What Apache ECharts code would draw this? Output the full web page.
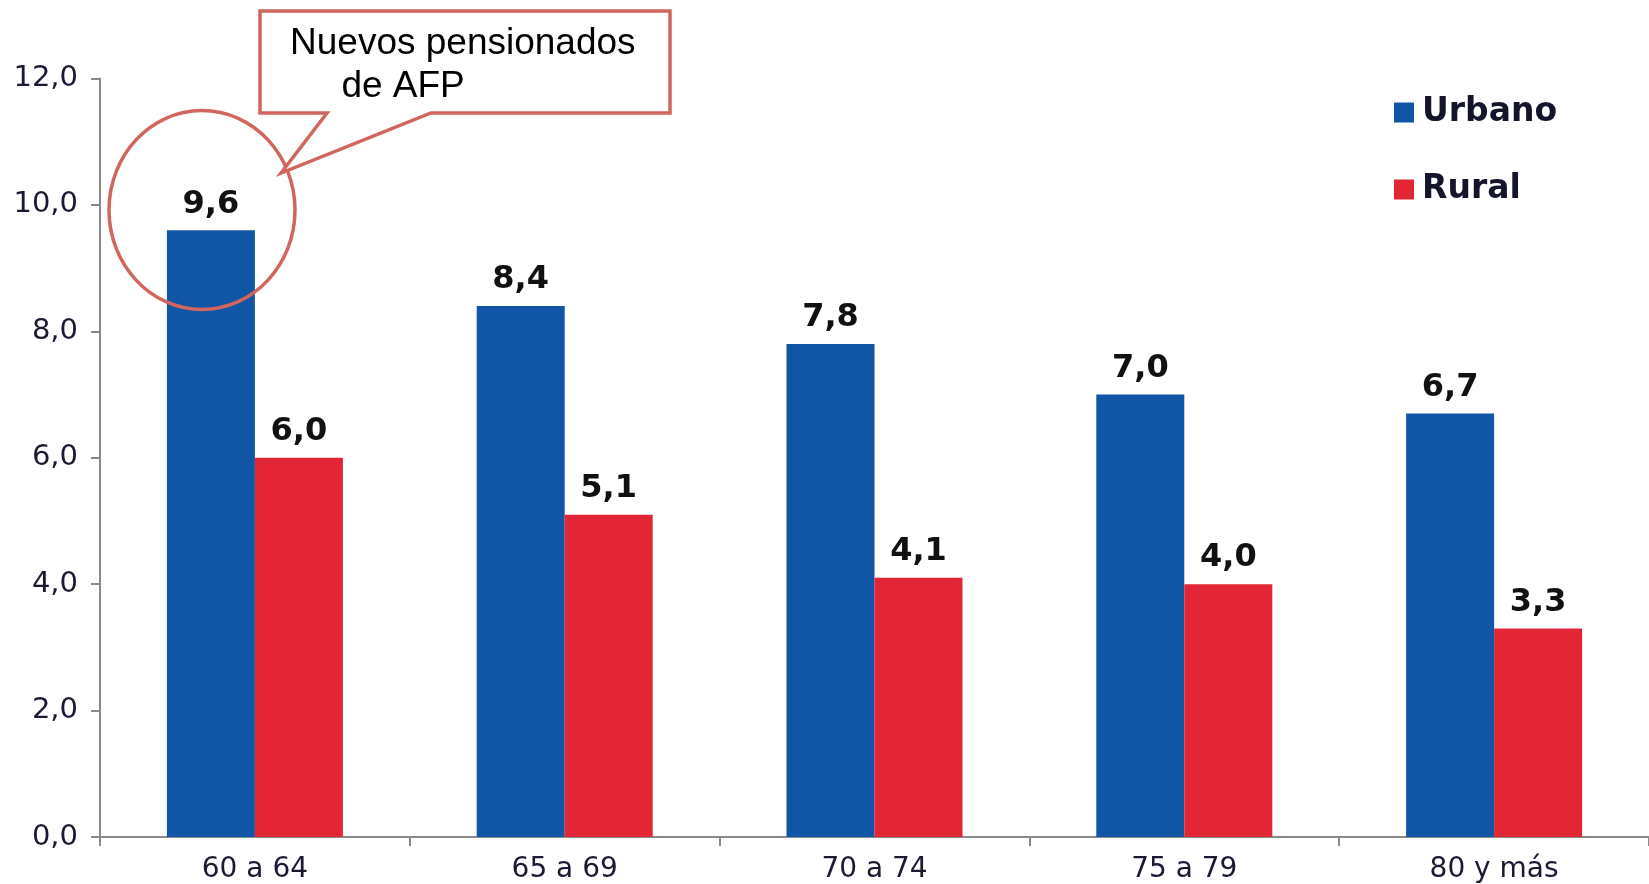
<!DOCTYPE html>
<html>
<head>
<meta charset="utf-8">
<script src="https://cdn.jsdelivr.net/npm/echarts@6/dist/echarts.min.js"></script>
<style>
html,body{margin:0;padding:0;background:#fff;}
#chart{width:1649px;height:884px;}
</style>
</head>
<body>
<div id="chart"></div>
<script>
var categories = ['60 a 64', '65 a 69', '70 a 74', '75 a 79', '80 y más'];
var urbano = [9.6, 8.4, 7.8, 7.0, 6.7];
var rural = [6.0, 5.1, 4.1, 4.0, 3.3];
var seriesNames = ['Urbano', 'Rural'];
var calloutLines = ['Nuevos pensionados', '     de AFP'];

function fmt(v) { return Number(v).toFixed(1).replace('.', ','); }

var chart = echarts.init(document.getElementById('chart'), null, {renderer: 'canvas'});
var accent = '#d0665e';
var labelStyle = {
  show: true, position: 'top', distance: 10,
  fontFamily: 'DejaVu Sans', fontWeight: 'bold', fontSize: 32, color: '#111',
  formatter: function (p) { return fmt(p.value); }
};
chart.setOption({
  animation: false,
  backgroundColor: '#fff',
  grid: {left: 100, right: 0, top: 78.5, bottom: 47, containLabel: false, outerBoundsMode: 'none'},
  legend: {
    orient: 'vertical', left: 1389, top: 91, itemWidth: 20, itemHeight: 20, itemGap: 44,
    icon: 'rect',
    data: seriesNames,
    textStyle: {fontFamily: 'DejaVu Sans', fontWeight: 'bold', fontSize: 33, color: '#14142a', padding: [0, 0, 0, 3]}
  },
  xAxis: {
    type: 'category', data: categories,
    axisLine: {lineStyle: {color: '#8a8a8a', width: 2}},
    axisTick: {show: true, length: 9, lineStyle: {color: '#8a8a8a', width: 2}},
    axisLabel: {fontFamily: 'DejaVu Sans', fontSize: 28, color: '#1a1a33', margin: 19}
  },
  yAxis: {
    type: 'value', min: 0, max: 12, interval: 2,
    axisLine: {show: true, lineStyle: {color: '#8a8a8a', width: 2}},
    axisTick: {show: true, length: 9, lineStyle: {color: '#8a8a8a', width: 2}},
    splitLine: {show: false},
    axisLabel: {fontFamily: 'DejaVu Sans', fontSize: 29, color: '#1a1a33', margin: 22, formatter: fmt}
  },
  series: [
    {name: seriesNames[0], type: 'bar', data: urbano, barWidth: 88, barGap: '0%',
     itemStyle: {color: '#1155a6'}, label: labelStyle},
    {name: seriesNames[1], type: 'bar', data: rural, barWidth: 88, barGap: '0%',
     itemStyle: {color: '#e32636'}, label: labelStyle}
  ],
  graphic: [
    {type: 'ellipse', shape: {cx: 202, cy: 210, rx: 93, ry: 99.5},
     style: {fill: 'none', stroke: accent, lineWidth: 3.5}, z: 100},
    {type: 'polygon', shape: {points: [[260, 11], [670, 11], [670, 113], [431, 113], [281, 173], [327, 113], [260, 113]]},
     style: {fill: '#fff', stroke: accent, lineWidth: 3.5, lineJoin: 'miter'}, z: 101},
    {type: 'text', left: 290, top: 22, z: 102,
     style: {text: calloutLines.join('\n'), fontFamily: 'Liberation Sans', fontSize: 37, lineHeight: 43, fill: '#000'}}
  ]
});
</script>
</body>
</html>
